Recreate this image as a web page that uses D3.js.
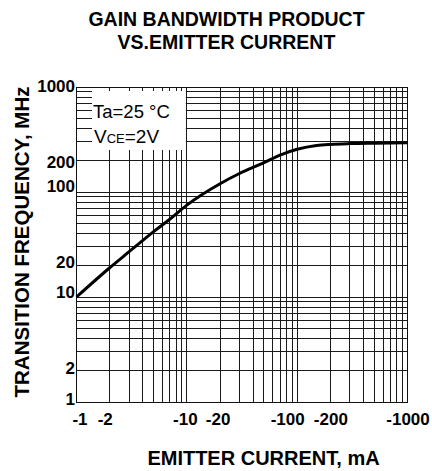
<!DOCTYPE html>
<html>
<head>
<meta charset="utf-8">
<script src="https://cdn.jsdelivr.net/npm/d3@7/dist/d3.min.js"></script>
<style>
  html, body { margin: 0; padding: 0; background: #fff; }
  svg { display: block; font-family: "Liberation Sans", Arial, sans-serif; }
</style>
</head>
<body>
<svg id="chart" width="432" height="471"></svg>
<script>
// ---- data ----
const emitterCurrent = [1, 2, 3, 5, 7, 10, 20, 30, 50, 70, 100, 150, 200, 300, 500, 1000]; // |mA|
const transitionFreq = [10, 19, 27, 42, 55, 75, 120, 150, 190, 225, 255, 277, 284, 289, 292, 295]; // MHz
const xTickValues = [1, 2, 10, 20, 100, 200, 1000];
const xTickLabels = ["-1", "-2", "-10", "-20", "-100", "-200", "-1000"];
const yTickValues = [1, 2, 10, 20, 100, 200, 1000];
const yTickLabels = ["1", "2", "10", "20", "100", "200", "1000"];
const titleLines = ["GAIN BANDWIDTH PRODUCT", "VS.EMITTER CURRENT"];
const xTitle = "EMITTER CURRENT, mA";
const yTitle = "TRANSITION FREQUENCY, MHz";

// ---- layout ----
const L = 76.5, R = 407.5, T = 87, B = 402;
// small hand-placement nudges of tick labels, as in the original drawing
const xLabelNudge = [3, -5, -2, -2.5, -10, 0, 0];
const yLabelNudge = [-3, -2, -5, -3.5, -6, 1.5, -1];

const svg = d3.select("#chart");
const x = d3.scaleLog().domain([1, 1000]).range([L, R]);
const y = d3.scaleLog().domain([1, 1000]).range([B, T]);

// grid values (1..9 per decade)
const gridVals = [];
for (let d = 1; d <= 100; d *= 10) for (let m = 1; m <= 9; m++) gridVals.push(d * m);
gridVals.push(1000);

const grid = svg.append("g").attr("shape-rendering", "crispEdges")
  .attr("stroke", "#1a1a1a").attr("stroke-width", 1);
grid.selectAll("line.v").data(gridVals).join("line").attr("class", "v")
  .attr("x1", d => x(d)).attr("x2", d => x(d)).attr("y1", T).attr("y2", B);
grid.selectAll("line.h").data(gridVals).join("line").attr("class", "h")
  .attr("x1", L).attr("x2", R).attr("y1", d => y(d)).attr("y2", d => y(d));

// legend box (white patch over grid)
const lx0 = x(1) + 15.5, lx1 = x(10) - 1, ly0 = T + 2, ly1 = T + 63;
svg.append("rect").attr("x", lx0).attr("y", ly0).attr("width", lx1 - lx0).attr("height", ly1 - ly0)
  .attr("fill", "#fff");
svg.append("g").attr("shape-rendering", "crispEdges").attr("stroke", "#1a1a1a")
  .selectAll("line").data(gridVals.filter(v => x(v) > lx0 && x(v) < lx1)).join("line")
  .attr("x1", d => x(d)).attr("x2", d => x(d)).attr("y1", T).attr("y2", T + 4);

// frame
svg.append("rect").attr("x", L).attr("y", T).attr("width", R - L).attr("height", B - T)
  .attr("fill", "none").attr("stroke", "#111").attr("shape-rendering", "crispEdges");

// curve
const line = d3.line().x((d, i) => x(emitterCurrent[i])).y(d => y(d)).curve(d3.curveMonotoneX);
svg.append("path").datum(transitionFreq).attr("d", line)
  .attr("fill", "none").attr("stroke", "#000").attr("stroke-width", 3).attr("stroke-linejoin", "round");

// legend text
const leg = svg.append("g").attr("fill", "#000");
leg.append("text").attr("x", lx0 + 1).attr("y", T + 31).attr("font-size", 18.5).text("Ta=25 °C");
const t2 = leg.append("text").attr("x", lx0 + 2).attr("y", T + 56).attr("font-size", 19);
t2.append("tspan").text("V");
t2.append("tspan").attr("font-size", 13).text("CE");
t2.append("tspan").text("=2V");

// axes
const xAxis = d3.axisBottom(x).tickValues(xTickValues)
  .tickFormat((d, i) => xTickLabels[i]).tickSize(0).tickPadding(11);
const gx = svg.append("g").attr("transform", `translate(0,${B})`).call(xAxis);
gx.select(".domain").remove();
gx.selectAll("text").attr("font-size", 17).attr("font-weight", "bold")
  .attr("font-family", "Liberation Sans, Arial, sans-serif").attr("fill", "#000")
  .attr("dx", (d, i) => xLabelNudge[i]);

const yAxis = d3.axisLeft(y).tickValues(yTickValues)
  .tickFormat((d, i) => yTickLabels[i]).tickSize(0).tickPadding(1.5);
const gy = svg.append("g").attr("transform", `translate(${L},0)`).call(yAxis);
gy.select(".domain").remove();
gy.selectAll("text").attr("font-size", 17).attr("font-weight", "bold")
  .attr("font-family", "Liberation Sans, Arial, sans-serif").attr("fill", "#000")
  .attr("y", (d, i) => yLabelNudge[i]);

// titles
svg.append("g").selectAll("text").data(titleLines).join("text")
  .attr("x", 226.5).attr("y", (d, i) => 26 + i * 23)
  .attr("text-anchor", "middle").attr("font-size", 19.5).attr("font-weight", "bold").text(d => d);
svg.append("text").attr("x", 263.5).attr("y", 465).attr("text-anchor", "middle")
  .attr("font-size", 20).attr("font-weight", "bold").text(xTitle);
svg.append("text").attr("transform", "translate(29,242) rotate(-90)").attr("text-anchor", "middle")
  .attr("font-size", 20.5).attr("font-weight", "bold").text(yTitle);
</script>
</body>
</html>
